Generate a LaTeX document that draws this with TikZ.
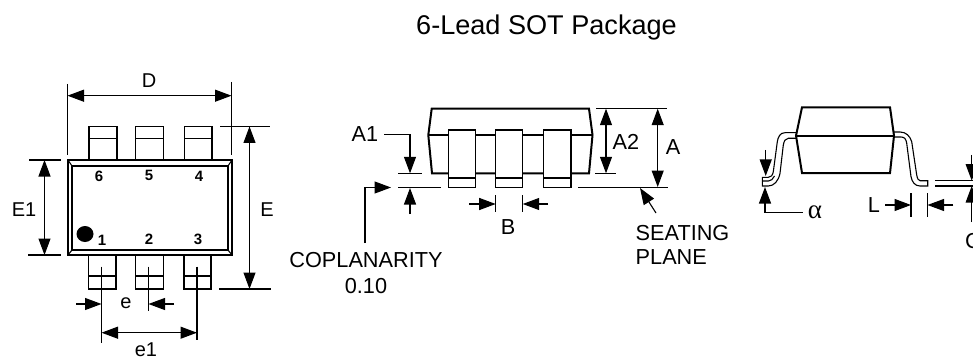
\documentclass[tikz,border=0pt]{standalone}
\usepackage{fontspec}
\setmainfont{Liberation Sans}
\newfontfamily\symfont{Liberation Serif}
\usetikzlibrary{arrows.meta}
\tikzset{
 lab/.style={inner sep=0pt,font=\fontsize{20}{22}\selectfont},
 labb/.style={inner sep=0pt,font=\fontsize{21.7}{24}\selectfont},
 ttl/.style={inner sep=0pt,font=\fontsize{27.1}{30}\selectfont},
 num/.style={inner sep=0pt,font=\fontsize{15}{17}\selectfont\bfseries},
 ln/.style={line width=1.1pt,black},
 thick line/.style={line width=2pt,black,line join=miter},
 dim/.style={line width=1.1pt,black,{Triangle[length=16.5pt,width=12pt]}-{Triangle[length=16.5pt,width=12pt]}},
 ar/.style={line width=1.1pt,black,-{Triangle[length=16.5pt,width=12pt]}},
}
\begin{document}
\begin{tikzpicture}[x=1pt,y=-1pt]
\useasboundingbox (0,0) rectangle (973,358);
\node[ttl] (title) at (546.5,27) {6-Lead SOT Package};
% Top view
\draw[thick line] (68,160) rectangle (232,255);
\draw[ln] (72,166) rectangle (228,250);
\draw[ln] (68,160)--(72,166) (232,160)--(228,166) (68,255)--(72,250) (232,255)--(228,250);
\foreach \a/\b in {89/117,135.5/163.5,184.5/212}{
 \draw[ln] (\a,160)--(\a,126.5)--(\b,126.5)--(\b,160) (\a,138.5)--(\b,138.5);}
\foreach \a/\b in {88.5/116,135.5/163.5,184/211}{
 \draw[ln] (\a,255)--(\a,289)--(\b,289)--(\b,255) (\a,276)--(\b,276);}
\fill[black] (85,234) ellipse (8.5 and 8);
\foreach \n/\x/\y in {6/99/176,5/149/175,4/199/176,1/102/240,2/149/239,3/198/239}{
 \node[num] (n\n) at (\x,\y) {\n};}
\draw[ln] (67.5,84)--(67.5,155) (231.5,82)--(231.5,155);
\coordinate (dl) at (67.5,95.7); \coordinate (dr) at (231.5,95.7);
\draw[dim] (dl)--(dr);
\node[lab] (D) at (149,81) {D};
\draw[ln] (29,160)--(61,160) (28,255)--(61,255);
\coordinate (e1t) at (44.5,160); \coordinate (e1b) at (44.5,255);
\draw[dim] (e1t)--(e1b);
\node[lab] (E1) at (24,210) {E1};
\draw[ln] (220,126.5)--(270,126.5) (219,289)--(271,289);
\coordinate (et) at (249.5,126.5); \coordinate (eb) at (249.5,289);
\draw[dim] (et)--(eb);
\node[lab] (E) at (267,210) {E};
\draw[ln] (101.5,266.5)--(101.5,343) (148.5,266.5)--(148.5,311) (197,266.5)--(197,340);
\coordinate (ea) at (76,304); \coordinate (eat) at (101.5,304);
\coordinate (eb2) at (174,304); \coordinate (ebt) at (148.5,304);
\draw[ar] (ea)--(eat); \draw[ar] (eb2)--(ebt);
\node[lab] (e) at (126,303) {e};
\coordinate (ol) at (101.5,332.7); \coordinate (or) at (197,332.7);
\draw[dim] (ol)--(or);
\node[lab] (e1) at (146,350) {e1};
% Side view
\draw[thick line] (428.3,135)--(431.7,108.7)--(589,108.7)--(592.5,135)--(589,173.3)--(432,173.3)--cycle;
\draw[thick line] (428.3,135)--(592.5,135);
\foreach \a/\b in {448.3/475.7,495.7/522.7,543.3/571}{
 \fill[white] (\a,130) rectangle (\b,187.7);
 \draw[ln] (\a,130) rectangle (\b,187.7) (\a,178)--(\b,178);}
\draw[ln] (398,173.3)--(422,173.3) (398,187.7)--(441,187.7);
\draw[ln] (578,187.7)--(668,187.7) (595,173.3)--(616,173.3) (596,108.7)--(667,108.7);
\coordinate (a1c) at (384,134.5); \coordinate (a1k) at (410,134.5); \coordinate (a1t) at (410,173.3);
\draw[ar] (a1c)--(a1k)--(a1t);
\coordinate (a1u) at (410,214); \coordinate (a1v) at (410,188);
\draw[ar] (a1u)--(a1v);
\node[labb] (A1) at (365,134) {A1};
\coordinate (ca) at (365,243); \coordinate (cb) at (365,187.5); \coordinate (cc) at (391,187.5);
\draw[ar] (ca)--(cb)--(cc);
\node[labb] (cop) at (366,260) {COPLANARITY};
\node[labb] (cop2) at (366,286) {0.10};
\draw[ln] (495.7,195)--(495.7,211.7) (522.7,195)--(522.7,211.7);
\coordinate (bl) at (469,204); \coordinate (blt) at (495.7,204);
\coordinate (br) at (548,204); \coordinate (brt) at (522.7,204);
\draw[ar] (bl)--(blt); \draw[ar] (br)--(brt);
\node[labb] (B) at (508,227) {B};
\coordinate (a2t) at (606,108.7); \coordinate (a2b) at (606,173.3);
\draw[dim] (a2t)--(a2b);
\node[labb] (A2) at (626,142) {A2};
\coordinate (at) at (657.7,108.7); \coordinate (ab) at (657.7,187);
\draw[dim] (at)--(ab);
\node[labb] (A) at (673,147) {A};
\coordinate (sl) at (656,213); \coordinate (st) at (640,188);
\draw[ar] (sl)--(st);
\node[labb,anchor=west] (seat) at (635.5,232.7) {SEATING};
\node[labb,anchor=west] (plane) at (635.5,256.7) {PLANE};
% End view
\draw[ln,fill=white] (796,132.7)--(785,132.7) .. controls (780,132.7) and (778,137) .. (777.3,141.7)--(773.3,171.7) .. controls (772.5,175.5) and (771,177.3) .. (768.3,177.3)--(762.3,177.3)--(762.3,186)--(768.3,186) .. controls (774,186) and (778.5,181) .. (780,173.3)--(783.3,145) .. controls (784,141) and (785.5,138.3) .. (788.3,138.3)--(796,138.3);
\draw[ln] (762.3,181)--(768.5,181) .. controls (771,181) and (773,179) .. (774.5,176);
\draw[ln] (893,132)--(900,132) .. controls (906,132) and (910,136) .. (911.7,141.7)--(916.7,175) .. controls (917.3,178.5) and (918.5,180.7) .. (920,180.7)--(927.7,180.7)--(927.7,186)--(920,186) .. controls (915,186) and (912,182) .. (911,176.7)--(906.7,143.3) .. controls (906,139) and (904.5,137) .. (901,137)--(893,137);
\draw[thick line] (796,135.7)--(802,107.3)--(890,107.3)--(894,135.7)--(890,173)--(802,173)--cycle;
\draw[thick line] (796,135.7)--(894,135.7);
\coordinate (lu) at (765.7,150); \coordinate (lv) at (765.7,176);
\draw[ar] (lu)--(lv);
\coordinate (aa) at (802.7,212.7); \coordinate (ak) at (765,212.7); \coordinate (at2) at (765,187);
\draw[ar] (aa)--(ak)--(at2);
\node[inner sep=0pt,font=\symfont\fontsize{27}{29}\selectfont] (alpha) at (815,212) {α};
\node[labb] (L) at (874,205) {L};
\draw[ln] (911,193)--(911,216.7) (927.5,193)--(927.5,216.7);
\coordinate (ll) at (885,205); \coordinate (llt) at (911,205);
\coordinate (lr) at (953.3,205); \coordinate (lrt) at (927.5,205);
\draw[ar] (ll)--(llt); \draw[ar] (lr)--(lrt);
\draw[ln] (935,180.7)--(973,180.7) (935,186)--(973,186);
\coordinate (cu) at (971.7,155); \coordinate (cv) at (971.7,180.7);
\coordinate (cw) at (971.7,222); \coordinate (cx) at (971.7,186);
\draw[ar] (cu)--(cv); \draw[ar] (cw)--(cx);
\node[labb,anchor=west] (C) at (965,241) {C};
\end{tikzpicture}
\end{document}
